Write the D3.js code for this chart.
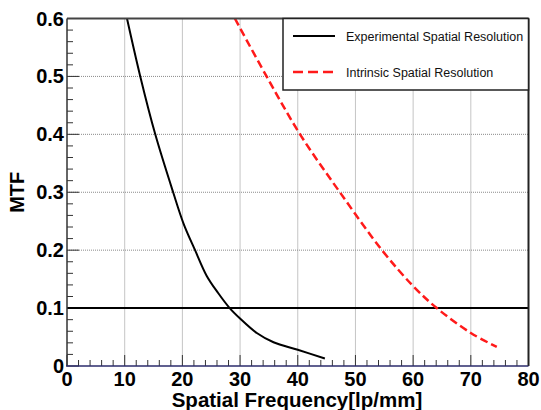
<!DOCTYPE html>
<html>
<head>
<meta charset="utf-8">
<script src="https://cdn.jsdelivr.net/npm/d3@7"></script>
<style>
	body { margin: 0; background: #fff; }
	svg { display: block; font-family: "Liberation Sans", Arial, sans-serif; }
</style>
</head>
<body>
<svg class="chart"></svg>
<script>

let expFreq = [10.4, 12.7, 15.3, 18.4, 20.2, 22.2, 24.2, 26.2, 28.2, 30, 32.9, 35.8, 40, 44.7];
let expMtf  = [0.6, 0.5, 0.4, 0.3, 0.246, 0.2, 0.156, 0.126, 0.1, 0.082, 0.057, 0.041, 0.028, 0.013];

let intFreq = [29.1, 34.6, 40.4, 47.3, 54.6, 60, 64.1, 70, 74.5];
let intMtf  = [0.6, 0.5, 0.4, 0.3, 0.2, 0.138, 0.1, 0.057, 0.033];

let xTicks = [0, 10, 20, 30, 40, 50, 60, 70, 80];
let yTicks = [0, 0.1, 0.2, 0.3, 0.4, 0.5, 0.6];
let seriesNames = ['Experimental Spatial Resolution', 'Intrinsic Spatial Resolution'];
let refLevel = 0.1;

let width = 541, height = 410;
let pLeft = 67, pRight = 528.5, pTop = 18.5, pBottom = 366;

let x = d3.scaleLinear().domain([0, 80]).range([pLeft, pRight]);
let y = d3.scaleLinear().domain([0, 0.6]).range([pBottom, pTop]);

let svg = d3.select('.chart')
			.attr('width', width)
			.attr('height', height);

svg.append('defs').append('clipPath')
		.attr('id', 'plot')
	.append('rect')
		.attr('x', pLeft).attr('y', pTop)
		.attr('width', pRight - pLeft).attr('height', pBottom - pTop);

// dotted grid
svg.append('g').selectAll('line')
		.data(xTicks.slice(1, -1))
	.enter().append('line')
		.attr('x1', d => x(d)).attr('x2', d => x(d))
		.attr('y1', pTop).attr('y2', pBottom)
		.attr('stroke', '#8a8a8a').attr('stroke-width', 1).attr('stroke-dasharray', '1,1');

svg.append('g').selectAll('line')
		.data(yTicks.slice(1, -1))
	.enter().append('line')
		.attr('x1', pLeft).attr('x2', pRight)
		.attr('y1', d => y(d)).attr('y2', d => y(d))
		.attr('stroke', '#8a8a8a').attr('stroke-width', 1).attr('stroke-dasharray', '1,1');

// inward ticks
let xMinor = d3.range(0, 80.01, 2);
svg.append('g').selectAll('line')
		.data(xMinor)
	.enter().append('line')
		.attr('x1', d => x(d)).attr('x2', d => x(d))
		.attr('y1', pBottom)
		.attr('y2', d => pBottom - (d % 10 === 0 ? 11 : 6))
		.attr('stroke', '#333').attr('stroke-width', 1);

let yMinor = d3.range(0, 31).map(i => i * 0.02);
svg.append('g').selectAll('line')
		.data(yMinor)
	.enter().append('line')
		.attr('x1', pLeft)
		.attr('x2', (d, i) => pLeft + (i % 5 === 0 ? 12 : 6))
		.attr('y1', d => y(d)).attr('y2', d => y(d))
		.attr('stroke', '#333').attr('stroke-width', 1);

// reference line at 0.1
svg.append('line')
		.attr('x1', pLeft).attr('x2', pRight)
		.attr('y1', y(refLevel)).attr('y2', y(refLevel))
		.attr('stroke', '#000').attr('stroke-width', 2);

let line = d3.line()
		.x(d => x(d[0]))
		.y(d => y(d[1]))
		.curve(d3.curveCatmullRom.alpha(0.5));

let curves = svg.append('g').attr('clip-path', 'url(#plot)');

curves.append('path')
		.datum(d3.zip(expFreq, expMtf))
		.attr('d', line)
		.attr('fill', 'none')
		.attr('stroke', '#000')
		.attr('stroke-width', 2);

curves.append('path')
		.datum(d3.zip(intFreq, intMtf))
		.attr('d', line)
		.attr('fill', 'none')
		.attr('stroke', '#ff1a1a')
		.attr('stroke-width', 2.5)
		.attr('stroke-dasharray', '8,4');

// frame
svg.append('line')
		.attr('x1', pLeft).attr('x2', pRight).attr('y1', pTop).attr('y2', pTop)
		.attr('stroke', '#444').attr('stroke-width', 2);
svg.append('line')
		.attr('x1', pRight).attr('x2', pRight).attr('y1', pTop).attr('y2', pBottom)
		.attr('stroke', '#222').attr('stroke-width', 2);
svg.append('line')
		.attr('x1', pLeft).attr('x2', pLeft).attr('y1', pTop).attr('y2', pBottom)
		.attr('stroke', '#333').attr('stroke-width', 1.5);
svg.append('line')
		.attr('x1', pLeft - 1).attr('x2', pRight).attr('y1', pBottom).attr('y2', pBottom)
		.attr('stroke', '#2b2b6b').attr('stroke-width', 1.5);

// tick labels
svg.append('g').selectAll('text')
		.data(xTicks)
	.enter().append('text')
		.attr('x', d => x(d))
		.attr('y', 386)
		.attr('text-anchor', 'middle')
		.attr('font-size', 20)
		.attr('font-weight', 'bold')
		.text(d => d);

svg.append('g').selectAll('text')
		.data(yTicks)
	.enter().append('text')
		.attr('x', 64)
		.attr('y', d => y(d) + 7)
		.attr('text-anchor', 'end')
		.attr('font-size', 20)
		.attr('font-weight', 'bold')
		.text(d => d === 0 ? '0' : d.toFixed(1));

// axis titles
svg.append('text')
		.attr('x', 297)
		.attr('y', 407)
		.attr('text-anchor', 'middle')
		.attr('font-size', 20.5)
		.attr('font-weight', 'bold')
		.text('Spatial Frequency[lp/mm]');

svg.append('text')
		.attr('transform', 'translate(24,' + ((pTop + pBottom) / 2) + ') rotate(-90)')
		.attr('text-anchor', 'middle')
		.attr('font-size', 20)
		.attr('font-weight', 'bold')
		.text('MTF');

// legend
let legend = svg.append('g');
legend.append('rect')
		.attr('x', 283).attr('y', pTop)
		.attr('width', pRight - 283).attr('height', 90 - pTop)
		.attr('fill', '#fff')
		.attr('stroke', '#222').attr('stroke-width', 1.5);

let entry = legend.selectAll('g')
		.data(seriesNames)
	.enter().append('g')
		.attr('transform', (d, i) => 'translate(0,' + (36 + i * 36) + ')');

entry.append('line')
		.attr('x1', 293).attr('x2', 335)
		.attr('stroke', (d, i) => i === 0 ? '#000' : '#ff1a1a')
		.attr('stroke-width', (d, i) => i === 0 ? 2 : 2.5)
		.attr('stroke-dasharray', (d, i) => i === 0 ? null : '10,5');

entry.append('text')
		.attr('x', 346)
		.attr('y', 4.5)
		.attr('font-size', 12.5)
		.attr('fill', '#111')
		.text(d => d);

</script>
</body>
</html>
